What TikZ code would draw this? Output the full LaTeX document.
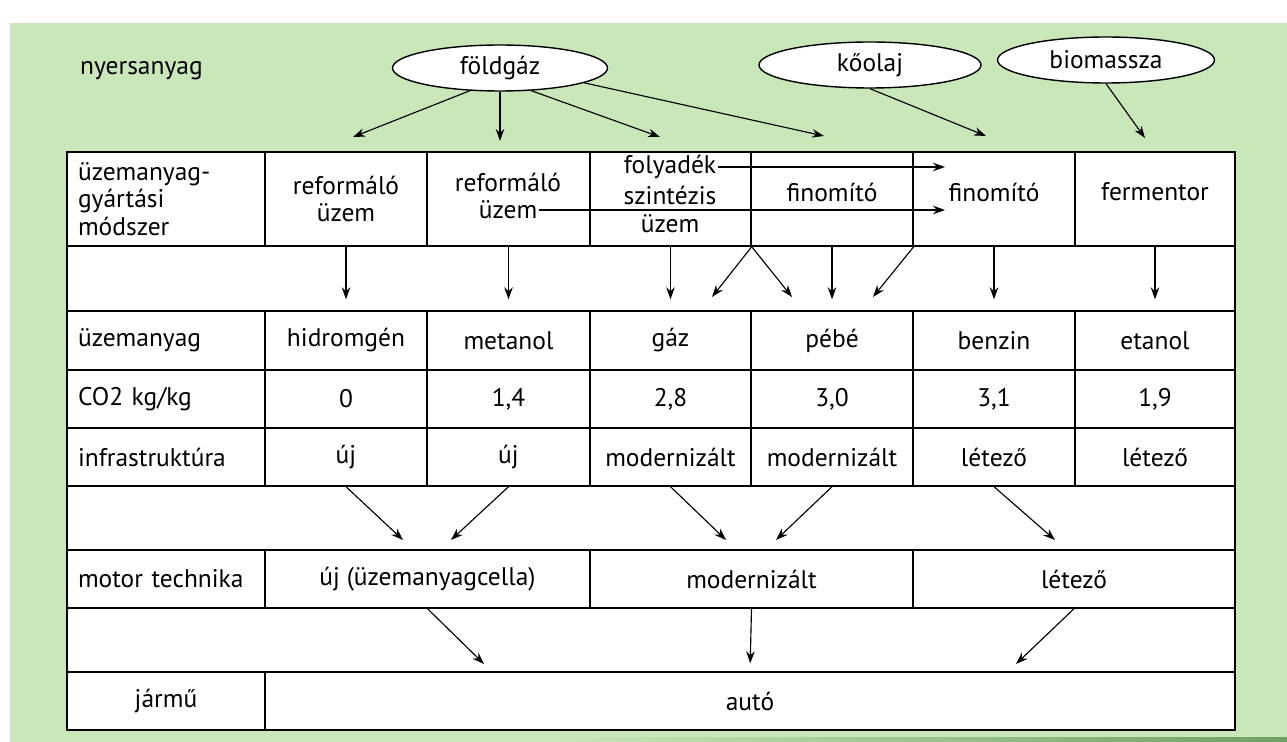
\documentclass[tikz,border=0pt]{standalone}
\usepackage{fontspec}
\setmainfont{PT Sans}
\usetikzlibrary{arrows.meta,shapes.geometric}
\definecolor{bggreen}{RGB}{202,231,185}
\definecolor{edgegreen}{RGB}{110,160,100}
\newcommand{\pxs}{0.02}
% one table cell: [style] name, x1, y1, x2, y2, text
\newcommand{\cell}[7][]{%
  \pgfmathsetmacro{\cellw}{(#5-#3)*\pxs}%
  \pgfmathsetmacro{\cellh}{(#6-#4)*\pxs}%
  \node[cell, minimum width=\cellw cm, minimum height=\cellh cm, #1] (#2) at ({(#3+#5)/2},{(#4+#6)/2}) {#7};}
\tikzset{
  txt/.style={inner sep=1pt, font=\fontsize{14.5}{15.5}\selectfont},
  cell/.style={txt, draw, fill=white, line width=0.8pt, inner sep=0pt, align=center},
  lab/.style={align=left, text width=3.52cm},
  up/.style={text depth=0.28cm},
  src/.style={txt, ellipse, draw, fill=white, line width=0.8pt, minimum height=0.92cm},
  arr/.style={-{Stealth[length=0.24cm,width=0.17cm]}, line width=0.65pt}
}

\begin{document}
\begin{tikzpicture}[x=0.02cm, y=-0.02cm]
  \useasboundingbox (0,0) rectangle (1287,742);
  \fill[bggreen] (10,23) rectangle (1287,742);
  \shade[left color=bggreen, right color=edgegreen] (550,737) rectangle (1287,742);

  % raw materials
  \node[txt, anchor=west] (raw) at (78,71) {nyersanyag};
  \node[src, minimum width=4.3cm] (fg) at (500,68) {földgáz};
  \node[src, minimum width=4.44cm] (ko) at (870,65) {kőolaj};
  \node[src, minimum width=4.34cm] (bio) at (1106,60) {biomassza};

  % table
  \draw[fill=white, line width=0.8pt] (67,152) rectangle (1235,730);
  \cell[lab]{gm}{67}{152}{265}{246}{üzemanyag-\\gyártási\\módszer}
  \cell{ref1}{265}{152}{427}{246}{reformáló\\üzem}
  \cell{ref2}{427}{152}{590}{246}{}
  \cell{liq}{590}{152}{751}{246}{}
  \cell[up]{fin1}{751}{152}{913}{246}{finomító}
  \cell[up]{fin2}{913}{152}{1075}{246}{finomító}
  \cell[up]{ferm}{1075}{152}{1235}{246}{fermentor}
  \node[txt] (ref2-a) at (508,182) {reformáló};
  \node[txt] (ref2-b) at (508,210) {üzem};
  \node[txt] (liq-a) at (670,167) {folyadék};
  \node[txt] (liq-b) at (670,195) {szintézis};
  \node[txt] (liq-c) at (670,224) {üzem};

  \cell[lab]{lfuel}{67}{311}{265}{370}{üzemanyag}
  \cell{hid}{265}{311}{427}{370}{hidromgén}
  \cell{met}{427}{311}{590}{370}{metanol}
  \cell{gaz}{590}{311}{751}{370}{gáz}
  \cell{pb}{751}{311}{913}{370}{pébé}
  \cell{benz}{913}{311}{1075}{370}{benzin}
  \cell{etan}{1075}{311}{1235}{370}{etanol}

  \cell[lab]{lco}{67}{370}{265}{428}{CO2 kg/kg}
  \cell{co1}{265}{370}{427}{428}{0}
  \cell{co2}{427}{370}{590}{428}{1,4}
  \cell{co3}{590}{370}{751}{428}{2,8}
  \cell{co4}{751}{370}{913}{428}{3,0}
  \cell{co5}{913}{370}{1075}{428}{3,1}
  \cell{co6}{1075}{370}{1235}{428}{1,9}

  \cell[lab]{linf}{67}{428}{265}{486}{infrastruktúra}
  \cell{inf1}{265}{428}{427}{486}{új}
  \cell{inf2}{427}{428}{590}{486}{új}
  \cell{inf3}{590}{428}{751}{486}{modernizált}
  \cell{inf4}{751}{428}{913}{486}{modernizált}
  \cell{inf5}{913}{428}{1075}{486}{létező}
  \cell{inf6}{1075}{428}{1235}{486}{létező}

  \cell[lab]{lmot}{67}{550}{265}{608}{motor technika}
  \cell{mot1}{265}{550}{590}{608}{új (üzemanyagcella)}
  \cell{mot2}{590}{550}{913}{608}{modernizált}
  \cell{mot3}{913}{550}{1235}{608}{létező}

  \cell{ljar}{67}{672}{265}{730}{jármű}
  \cell{auto}{265}{672}{1235}{730}{autó}

  % arrows into the table
  \coordinate (in-ref1) at (353,137);
  \coordinate (in-ref2) at (500,141);
  \coordinate (in-liq) at (660,137);
  \coordinate (in-fin1) at (824,136);
  \coordinate (in-fin2) at (986,136);
  \coordinate (in-ferm) at (1145,138);
  \draw[arr] (fg.217) -- (in-ref1);
  \draw[arr] (fg.south) -- (in-ref2);
  \draw[arr] (fg.-36) -- (in-liq);
  \draw[arr] (fg.-10) -- (in-fin1);
  \draw[arr] (ko.south) -- (in-fin2);
  \draw[arr] (bio.south) -- (in-ferm);

  \coordinate (fin2-a) at (945,167);
  \coordinate (fin2-b) at (945,210);
  \draw[arr] (liq-a.east) -- (fin2-a);
  \draw[arr] (ref2-b.east) -- (fin2-b);

  % method -> fuel
  \draw[arr, shorten >=0.22cm] (ref1.south) -- (hid.north);
  \draw[arr, shorten >=0.22cm] (ref2.south) -- (met.north);
  \draw[arr, shorten >=0.22cm] (liq.south) -- (gaz.north);
  \draw[arr, shorten >=0.22cm] (fin1.south) -- (pb.north);
  \draw[arr, shorten >=0.22cm] (fin2.south) -- (benz.north);
  \draw[arr, shorten >=0.22cm] (ferm.south) -- (etan.north);
  \coordinate (gaz-in) at (712,297);
  \coordinate (pb-in) at (792,297);
  \coordinate (pb-in2) at (873,297);
  \draw[arr] (liq.south east) -- (gaz-in);
  \draw[arr] (liq.south east) -- (pb-in);
  \draw[arr] (fin1.south east) -- (pb-in2);

  % infrastructure -> engine
  \coordinate (m1-l) at (403,540);
  \coordinate (m1-r) at (451,540);
  \coordinate (m2-l) at (726,540);
  \coordinate (m2-r) at (776,540);
  \coordinate (m3-l) at (1055,540);
  \draw[arr] (inf1.south) -- (m1-l);
  \draw[arr] (inf2.south) -- (m1-r);
  \draw[arr] (inf3.south) -- (m2-l);
  \draw[arr] (inf4.south) -- (m2-r);
  \draw[arr] (inf5.south) -- (m3-l);

  % engine -> vehicle
  \coordinate (a-l) at (484,664);
  \coordinate (a-r) at (1016,664);
  \draw[arr] (mot1.south) -- (a-l);
  \draw[arr, shorten >=0.16cm] (mot2.south) -- (auto.north);
  \draw[arr] (mot3.south) -- (a-r);
\end{tikzpicture}
\end{document}
